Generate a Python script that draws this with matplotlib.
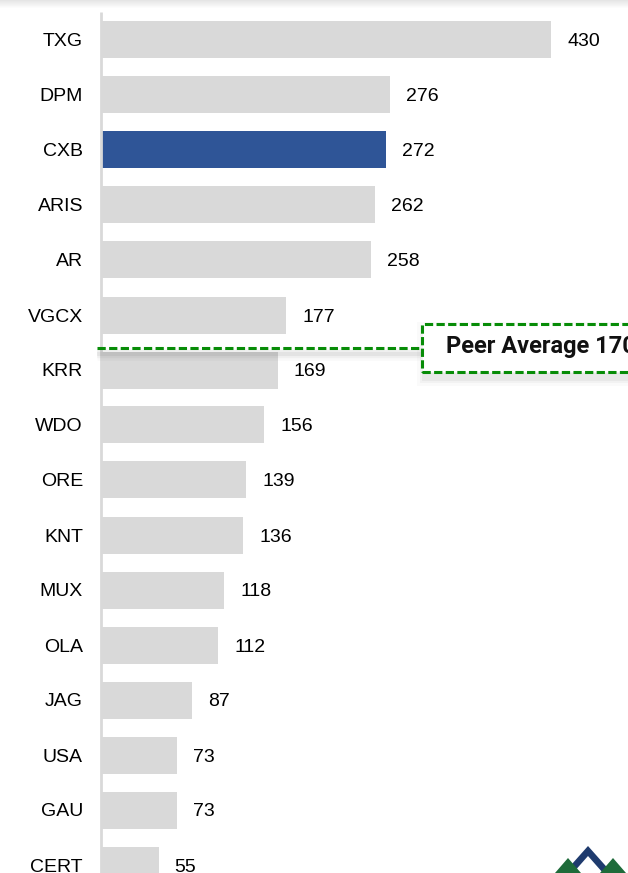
import matplotlib
matplotlib.use("Agg")
import matplotlib.pyplot as plt
import numpy as np
from matplotlib.patches import Polygon, Rectangle

categories = ["TXG", "DPM", "CXB", "ARIS", "AR", "VGCX", "KRR", "WDO", "ORE",
              "KNT", "MUX", "OLA", "JAG", "USA", "GAU", "CERT"]
values = [430, 276, 272, 262, 258, 177, 169, 156, 139, 136, 118, 112, 87, 73, 73, 55]
highlight = "CXB"
peer_avg = 170
peer_label = "Peer Average 170"

W, H = 628, 873
fig = plt.figure(figsize=(W / 100, H / 100), dpi=100)
fig.patch.set_facecolor("white")

x0 = 101
scale = 450 / 430.0  # px per unit
pitch = 55.0
c0 = 40.0
ax = fig.add_axes([x0 / W, 0, 1 - x0 / W, 1])
ax.set_xlim(0, (W - x0) / scale)
ytop = -c0 / pitch
ybot = (H - c0) / pitch
ax.set_ylim(ybot, ytop)
ax.axis("off")

ypos = np.arange(len(categories))
colors = ["#2F5597" if c == highlight else "#D9D9D9" for c in categories]
ax.barh(ypos, values, height=37 / pitch, color=colors, zorder=2)

# axis line
ax.plot([0, 0], [(12 - c0) / pitch, ybot], color="#D9D9D9", lw=2, zorder=3,
        solid_capstyle="butt", clip_on=False)

for y, c, v in zip(ypos, categories, values):
    ax.annotate(c, (0, y), xytext=(-18, -2), textcoords="offset pixels",
                ha="right", va="center", fontsize=14, family="Liberation Sans",
                color="#000000")
    ax.annotate(str(v), (v, y), xytext=(16, -2), textcoords="offset pixels",
                ha="left", va="center", fontsize=14, family="Liberation Sans",
                color="#000000")

# peer average dashed line (horizontal) with box
ly = (348 - c0) / pitch
green = "#078C07"
xa, xb = -4 / scale, (421 - x0) / scale
# soft shadow under the line
for w, a in [(9, 0.025), (6, 0.035), (3, 0.05)]:
    ax.plot([xa, xb], [ly + 6 / pitch, ly + 6 / pitch], color="black", alpha=a,
            lw=w, solid_capstyle="butt", zorder=3.5, clip_on=False)
ax.plot([xa, xb], [ly, ly], color=green, lw=2.2,
        dashes=(2.7, 1.1), zorder=4, clip_on=False)

# box in figure pixels (extends beyond right edge, as in the reference)
bx0, by0, bw, bh = 422, H - 372, 260, 48
def fig_rect(x, y, w, h, **kw):
    r = Rectangle((x / W, y / H), w / W, h / H, transform=fig.transFigure, **kw)
    fig.patches.append(r)
    return r
# shadow
for d, a in [(8, 0.02), (5, 0.03), (3, 0.04)]:
    fig_rect(bx0 + 3 - d, by0 - 6 - d, bw + 2 * d, bh + 2 * d, facecolor="black",
             alpha=a, edgecolor="none", zorder=4)
fig_rect(bx0, by0, bw, bh, facecolor="white", edgecolor=green, lw=2.2,
         linestyle=(0, (2.7, 1.1)), zorder=5)
fig.text(446 / W, (H - 347) / H, peer_label, ha="left", va="center",
         fontsize=17, fontweight="bold", family="Roboto", color="#111111", zorder=6)

# top shadow
for i in range(8):
    a = 0.10 * (1 - i / 8)
    fig_rect(0, H - (i + 1), W, 1, facecolor="#000000", alpha=a, edgecolor="none", zorder=10)

# logo (decorative)
def fpoly(pts, color):
    fig.patches.append(Polygon([(x / W, (H - y) / H) for x, y in pts], closed=True,
                               transform=fig.transFigure, facecolor=color, edgecolor="none", zorder=10))

blue = "#1F3B6E"
dgreen = "#1E6B3A"
fpoly([(588, 846), (612, 873), (603, 873), (588, 856), (573, 873), (564, 873)], blue)
fpoly([(568, 858), (555, 873), (581, 873)], dgreen)
fpoly([(613, 858), (600, 873), (626, 873)], dgreen)

fig.savefig("out.png", dpi=100, facecolor="white")
